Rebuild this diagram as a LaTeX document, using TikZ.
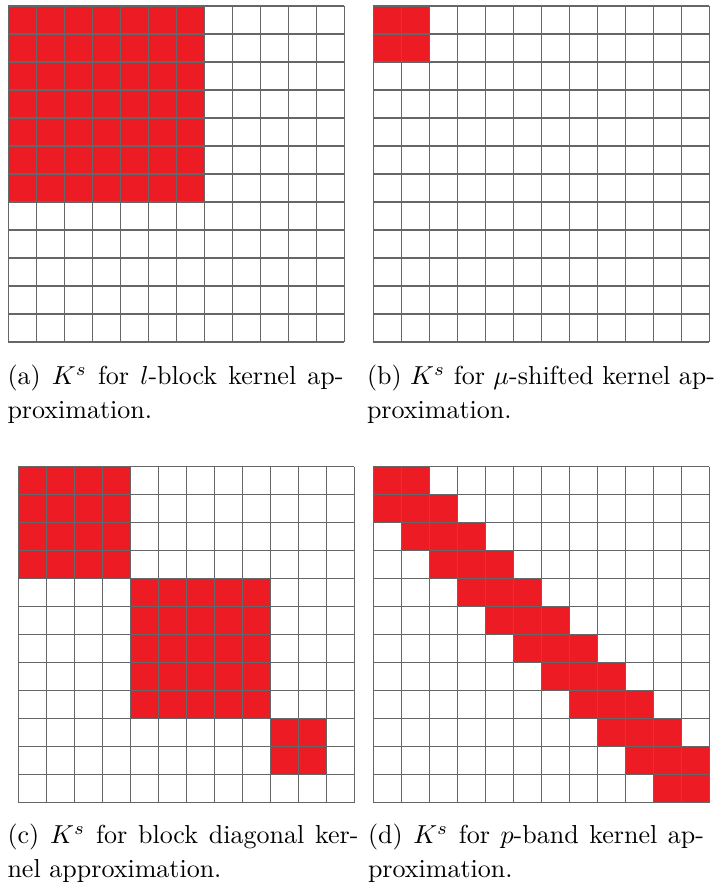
\documentclass[tikz,border=0pt]{standalone}
\usepackage{amsmath,amssymb}
\usepackage{tikz}
\usetikzlibrary{positioning}
\definecolor{cellred}{HTML}{ED1C24}
\definecolor{linegray}{HTML}{666666}

\begin{document}
\begin{tikzpicture}[
  x=0.3846pt, y=-0.3846pt,
  redcell/.style={fill=cellred},
  gridline/.style={draw=linegray, line width=0.5pt},
  subcap/.style={anchor=north west, inner sep=0pt, align=justify, font=\fontsize{10}{13}\selectfont}
]
\useasboundingbox (0,0) rectangle (714,884);

% (a) l-block
\begin{scope}[shift={(8.3,6)}]
  \foreach \i in {0,...,6}
    \foreach \j in {0,...,6}
      \fill[redcell] (28*\j,28*\i) rectangle ++(28,28);
  \foreach \k in {0,...,12} {
    \draw[gridline] (28*\k,0) -- (28*\k,336);
    \draw[gridline] (0,28*\k) -- (336,28*\k);
  }
\end{scope}
\node[subcap, text width=129.2pt] (capA) at (7,364.5)
  {(a) $K^s$ for $l$-block kernel ap-\linebreak proximation.};

% (b) mu-shifted
\begin{scope}[shift={(373.3,6)}]
  \fill[redcell] (0,0) rectangle (56,56);
  \foreach \k in {0,...,12} {
    \draw[gridline] (28*\k,0) -- (28*\k,336);
    \draw[gridline] (0,28*\k) -- (336,28*\k);
  }
\end{scope}
\node[subcap, text width=133.8pt] (capB) at (366.5,364.5)
  {(b) $K^s$ for $\mu$-shifted kernel ap-\linebreak proximation.};

% (c) block diagonal
\begin{scope}[shift={(18.3,466.7)}]
  \fill[redcell] (0,0) rectangle (112,112);
  \fill[redcell] (112,112) rectangle (252,252);
  \fill[redcell] (252,252) rectangle (308,308);
  \foreach \k in {0,...,12} {
    \draw[gridline] (28*\k,0) -- (28*\k,336);
    \draw[gridline] (0,28*\k) -- (336,28*\k);
  }
\end{scope}
\node[subcap, text width=135pt] (capC) at (7,823.5)
  {(c) $K^s$ for block diagonal ker-\linebreak nel approximation.};

% (d) p-band
\begin{scope}[shift={(373.3,466.7)}]
  \begin{scope}
    \clip (0,0) rectangle (336,336);
    \foreach \i in {0,...,11}
      \fill[redcell] (28*\i-28,28*\i) rectangle ++(84,28);
  \end{scope}
  \foreach \k in {0,...,12} {
    \draw[gridline] (28*\k,0) -- (28*\k,336);
    \draw[gridline] (0,28*\k) -- (336,28*\k);
  }
\end{scope}
\node[subcap, text width=129.2pt] (capD) at (367.5,823.5)
  {(d) $K^s$ for $p$-band kernel ap-\linebreak proximation.};

\end{tikzpicture}
\end{document}
